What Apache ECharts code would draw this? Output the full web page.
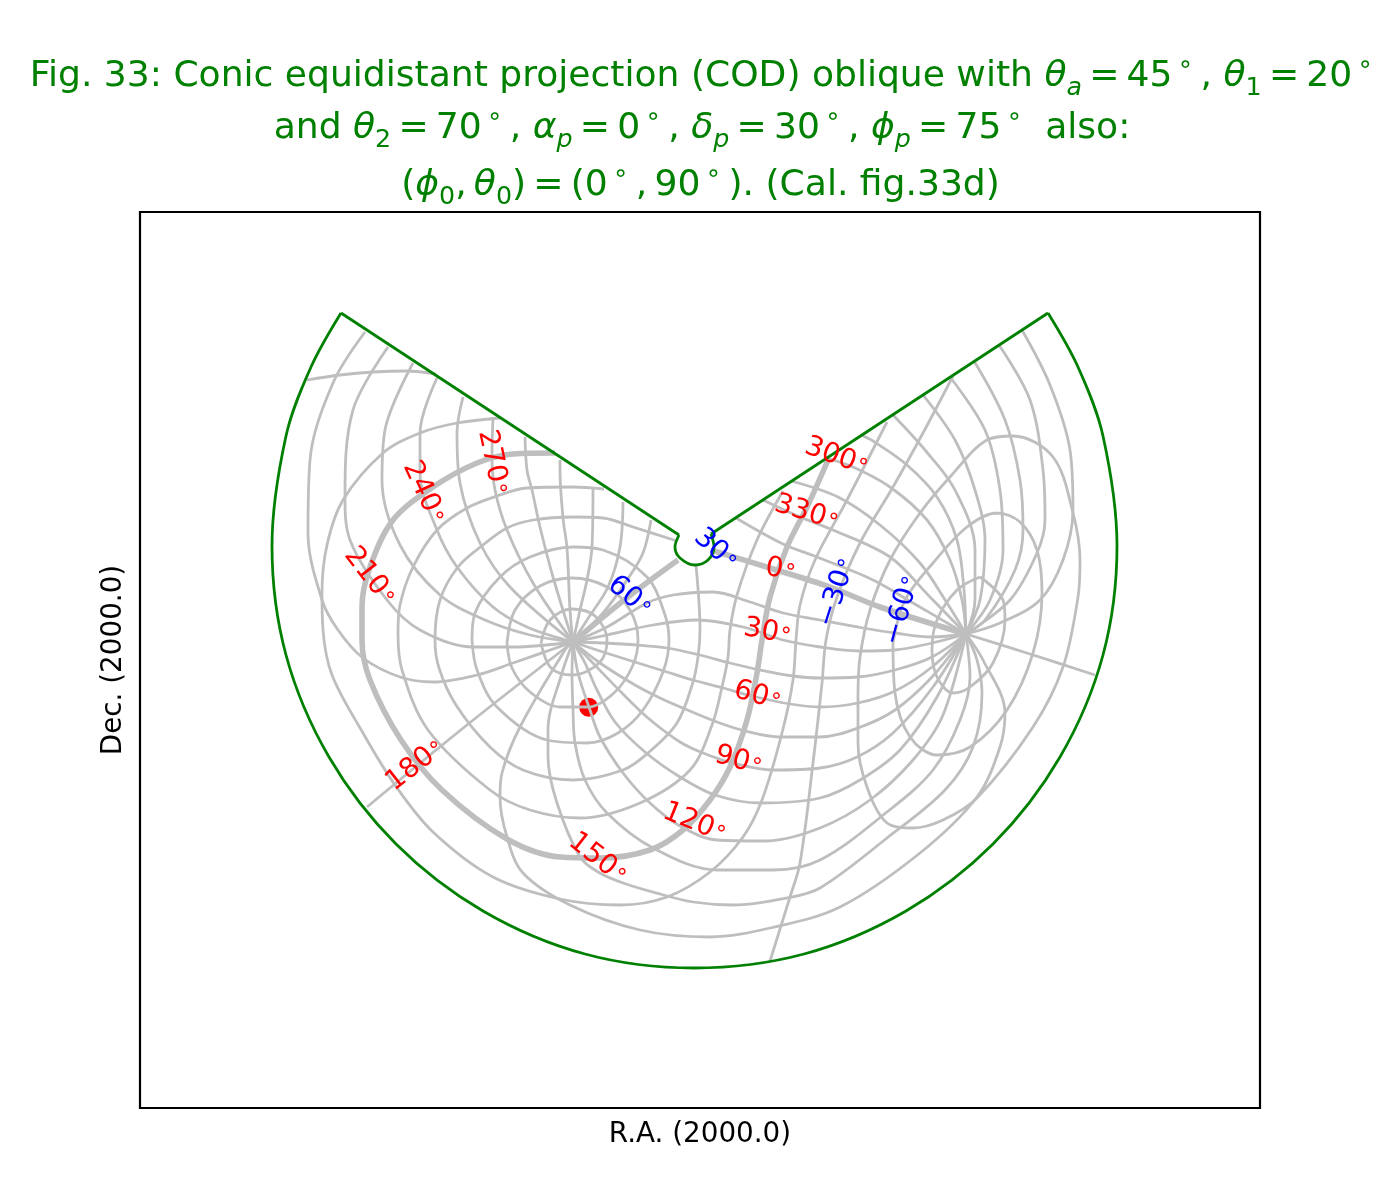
<!DOCTYPE html>
<html><head><meta charset="utf-8"><style>html,body{margin:0;padding:0;background:#fff}#c{width:1400px;height:1200px}</style>
<script src="https://cdn.jsdelivr.net/npm/echarts@6/dist/echarts.min.js"></script></head>
<body><div id="c"></div><script>
const N=[573,642], S=[966,634];
// Parallels (declination)
const dec75=[[541,643],[550,620],[572,609],[595,616],[607,640],[600,662],[573,675],[551,668],[541,643]];
const dec60=[[507,643],[515,610],[540,586],[572,578],[607,587],[630,610],[638,640],[633,665],[615,692],[588,707],[560,707],[530,692],[512,668],[507,643]];
const dec45=[[472,640],[475,613],[500,577],[530,557],[573,547],[603,550],[647,577],[665,615],[669,640],[663,672],[643,710],[618,733],[587,743],[547,740],[497,707],[477,670],[472,640]];
const dec30a=[[677,541],[633,527],[603,518],[573,517],[533,520],[507,528],[483,545],[458,567],[440,600],[435,640],[439,668],[456,705],[490,747],[523,770],[573,780],[623,770],[648,753],[677,723],[693,682],[698,657],[700,630],[696,565]];
const dec15=[[604,489],[573,487],[527,488],[497,496],[467,508],[437,530],[413,567],[400,605],[398,633],[402,670],[428,730],[490,790],[530,810],[580,818],[640,803],[690,770],[712,725],[722,687],[728,657],[730,630],[737,595],[757,540],[783,491]];
const dec0=[[555,453],[513,454],[477,463],[433,487],[393,520],[370,567],[362,607],[362,640],[370,680],[401,740],[442,790],[507,839],[560,857],[600,858],[650,850],[683,830],[710,800],[730,767],[747,720],[757,673],[762,640],[770,597],[787,547],[808,505],[828,460]];
const decm15=[[500,418],[457,423],[420,433],[383,453],[343,500],[327,545],[322,593],[323,630],[332,675],[363,733],[395,785],[433,832],[493,877],[560,899],[620,905],[667,897],[710,872],[743,837],[762,800],[782,733],[793,680],[796,640],[800,605],[815,560],[847,500],[887,422]];
const decm30a=[[307,380],[340,375],[373,372],[407,371],[436,374]];
const decm30b=[[953,376],[923,433],[893,487],[860,543],[837,597],[826,640],[822,683],[813,763],[800,863],[790,897],[770,961]];
const decm45=[[858,693],[858,743],[867,787],[887,823],[913,828],[943,820],[977,798],[1033,727],[1063,667],[1078,597],[1080,560],[1073,513],[1053,457],[1013,436],[987,440],[950,477],[920,513],[890,560],[870,610],[860,657],[858,693]];
const decm60=[[893,643],[895,693],[910,737],[937,755],[970,747],[1007,710],[1033,653],[1042,593],[1037,550],[1020,522],[997,513],[967,527],[933,563],[905,600],[893,643]];
const decm75=[[980,577],[1003,600],[1005,620],[993,663],[970,687],[953,693],[937,677],[932,650],[937,620],[957,590],[980,577]];
// Meridians (right ascension)
const ra0a=[N,[628,597],[678,560]];
const ra0b=[[714,551],[770,568],[830,587],[880,607],S];
const ra15=[N,[607,627],[647,603],[673,595],[713,592],[750,602],[783,613],[820,620],[863,628],[895,633],[932,637],S];
const ra30=[N,[607,635],[653,625],[697,620],[743,627],[783,640],[820,647],[858,651],[895,650],[932,643],S];
const ra45=[N,[603,643],[637,645],[667,648],[700,655],[730,663],[760,670],[793,676],[820,678],[858,677],[895,670],[932,657],S];
const ra60=[N,[603,652],[638,663],[667,672],[693,680],[723,688],[752,696],[790,704],[820,707],[858,703],[895,691],[932,667],S];
const ra75=[N,[600,663],[635,685],[660,698],[685,709],[717,722],[745,731],[780,737],[820,737],[858,728],[895,710],[932,677],S];
const ra90=[N,[590,660],[622,693],[648,718],[680,742],[703,753],[733,763],[773,770],[820,768],[857,757],[893,733],[933,687],S];
const ra105=[N,[585,663],[597,690],[615,722],[645,752],[680,777],[715,795],[760,803],[820,798],[860,780],[900,750],[937,697],S];
const ra120=[N,[578,673],[590,710],[600,737],[623,773],[650,803],[680,826],[717,840],[765,841],[820,828],[870,800],[913,760],[943,715],S];
const ra135=[N,[572,673],[573,710],[575,743],[585,780],[607,813],[653,848],[717,870],[773,870],[820,860],[887,812],[933,770],[960,720],[970,677],S];
const ra150=[N,[562,673],[548,730],[548,757],[557,803],[580,857],[598,872],[623,883],[660,894],[693,902],[733,905],[787,898],[820,888],[887,838],[945,790],[973,747],[982,693],[977,660],S];
const ra165=[N,[565,650],[520,727],[502,773],[500,797],[507,837],[523,873],[570,905],[640,930],[710,937],[770,928],[840,907],[920,853],[977,797],[1000,747],[1005,713],[983,660],S];
const ra180a=[N,[467,725],[367,807]];
const ra180b=[S,[1030,654],[1095,675]];
const ra195a=[N,[513,663],[477,675],[433,682],[400,677],[363,658],[338,630],[322,600],[308,533],[310,460],[333,383],[365,332]];
const ra195b=[[1022,330],[1050,385],[1070,450],[1073,510],[1063,560],[1040,600],[1000,623],S];
const ra210a=[N,[513,647],[473,647],[420,630],[387,600],[350,540],[345,497],[353,410],[388,347]];
const ra210b=[[999,345],[1030,400],[1043,470],[1045,520],[1037,553],[1010,600],S];
const ra225a=[N,[530,635],[485,620],[440,595],[400,545],[382,480],[385,430],[413,363]];
const ra225b=[[974,361],[1005,420],[1020,480],[1023,530],[1015,570],[985,620],S];
const ra240a=[N,[527,627],[493,607],[457,567],[437,530],[420,473],[420,433],[437,378]];
const ra240b=[[950,377],[985,430],[1000,490],[1003,550],[990,600],S];
const ra255a=[N,[510,587],[480,543],[460,483],[457,433],[463,397]];
const ra255b=[[923,395],[955,440],[975,490],[985,540],[980,600],S];
const ra270a=[N,[533,583],[507,530],[495,490],[492,457],[493,417]];
const ra270b=[[893,415],[925,450],[955,490],[975,550],[975,600],S];
const ra285a=[N,[553,577],[540,527],[532,490],[527,470],[525,437]];
const ra285b=[[861,435],[873,441],[907,465],[937,497],[957,540],[964,590],S];
const ra300a=[N,[570,610],[567,548],[563,518],[560,470],[560,460]];
const ra300b=[[826,458],[853,467],[890,487],[927,520],[950,560],[962,600],S];
const ra315a=[N,[580,610],[587,580],[592,547],[593,487]];
const ra315b=[[791,481],[838,497],[880,525],[920,563],[947,603],S];
const ra330a=[N,[587,620],[608,587],[620,547],[623,502]];
const ra330b=[[763,500],[800,517],[833,530],[890,557],[930,597],S];
const ra345a=[N,[603,613],[627,580],[643,553],[651,520]];
const ra345b=[[736,518],[783,544],[817,557],[873,580],[913,603],S];
// Boundary of the projection
const outerArc=[[341,313],[311,367],[286,436],[272,546],[286,655],[329,757],[396,844],[483,911],[585,954],[694,968],[804,954],[906,911],[993,844],[1060,757],[1103,655],[1117,546],[1103,436],[1078,367],[1048,313]];
const cutLeft=[[341,313],[679,535]];
const cutRight=[[711,534],[1048,313]];
const innerArc=[[679,535],[675,547],[680,558],[695,565],[708,560],[714,547],[711,534]];
// Labels
const redText=['0','30','60','90','120','150','180','210','240','270','300','330'];
const redX=[781,768,758,739,695,598,416,370,424,493,837,807];
const redY=[570,632,696,761,823,859,765,577,493,463,457,513];
const redRot=[-10,-10,-15,-15,-22,-38,38,-52,-65,-78,-20,-17];
const blueText=['60','30','\u221230','\u221260'];
const blueX=[630,716,837,902];
const blueY=[597,550,592,610];
const blueRot=[-40,-42,72,75];
const dot=[[588.7,707.3]];

const thin=[dec75,dec60,dec45,dec30a,dec15,decm15,decm30a,decm30b,decm45,decm60,decm75,
 ra15,ra30,ra45,ra60,ra75,ra90,ra105,ra120,ra135,ra150,ra165,ra180a,ra180b,ra195a,ra195b,ra210a,ra210b,ra225a,ra225b,ra240a,ra240b,ra255a,ra255b,ra270a,ra270b,ra285a,ra285b,ra300a,ra300b,ra315a,ra315b,ra330a,ra330b,ra345a,ra345b];
const thick=[dec0,ra0a,ra0b];
const FONT='DejaVu Sans';
const SM=0.34;
const line=(d,w,c,z,sm)=>({type:'line',data:d,symbol:'none',smooth:sm,silent:true,clip:false,z:z,animation:false,lineStyle:{width:w,color:c,cap:'butt'}});
const series=[];
series.push({type:'scatter',data:dot,symbol:'circle',symbolSize:19,itemStyle:{color:'#ff0000',opacity:1},z:1,silent:true});
thin.forEach(d=>series.push(line(d,2.78,'#bebebe',2,SM)));
thick.forEach(d=>series.push(line(d,5.56,'#bebebe',2,SM)));
series.push(line(outerArc,2.78,'#008000',3,SM));
series.push(line(innerArc,2.78,'#008000',3,SM));
series.push(line(cutLeft,2.78,'#008000',3,false));
series.push(line(cutRight,2.78,'#008000',3,false));
const labelRich=c=>({a:{fontFamily:FONT,fontSize:27.8,color:c,lineHeight:30,opacity:1},b:{fontFamily:FONT,fontSize:22,color:c,lineHeight:14,verticalAlign:'top',opacity:1}});
const labels=(txt,xs,ys,rs,c)=>({type:'scatter',symbolSize:0,z:5,silent:true,itemStyle:{opacity:1},
 data:txt.map((t,i)=>({value:[xs[i],ys[i]],itemStyle:{opacity:1},label:{show:true,opacity:1,position:'inside',rotate:rs[i],formatter:'{a|'+t+'}{b|\u2218}',rich:labelRich(c)}}))});
series.push(labels(redText,redX,redY,redRot,'#ff0000'));
series.push(labels(blueText,blueX,blueY,blueRot,'#0000ff'));

const G='#008000';
const FS=36.1, FSS=25.3;
const titleRich={
 n:{fontFamily:FONT,fontSize:FS,color:G,lineHeight:48},
 i:{fontFamily:FONT,fontStyle:'italic',fontSize:FS,color:G,lineHeight:48},
 s:{fontFamily:FONT,fontSize:FSS,color:G,lineHeight:26,verticalAlign:'bottom'},
 si:{fontFamily:FONT,fontStyle:'italic',fontSize:FSS,color:G,lineHeight:26,verticalAlign:'bottom'},
 c:{fontFamily:FONT,fontSize:FSS,color:G,lineHeight:24,verticalAlign:'top'}
};
const titleLines=[
 '{n|Fig. 33: Conic equidistant projection (COD) oblique with }{i|\u03b8}{si|a}{n|\u2009=\u200945}{c|\u2009\u2218}{n|\u2009, }{i|\u03b8}{s|1}{n|\u2009=\u200920}{c|\u2009\u2218}',
 '{n|and }{i|\u03b8}{s|2}{n|\u2009=\u200970}{c|\u2009\u2218}{n|\u2009, }{i|\u03b1}{si|p}{n|\u2009=\u20090}{c|\u2009\u2218}{n|\u2009, }{i|\u03b4}{si|p}{n|\u2009=\u200930}{c|\u2009\u2218}{n|\u2009, }{i|\u03d5}{si|p}{n|\u2009=\u200975}{c|\u2009\u2218}{n|  also:}',
 '{n|(}{i|\u03d5}{s|0}{n|,\u2009}{i|\u03b8}{s|0}{n|)\u2009=\u2009(0}{c|\u2009\u2218}{n|\u2009,\u200990}{c|\u2009\u2218}{n|\u2009). (Cal. fig.33d)}'
];
const titleTops=[53,105,162];
const titleCx=[701.5,702,700.5];
const chart=echarts.init(document.getElementById('c'),null,{renderer:'canvas',width:1400,height:1200});
chart.setOption({
 animation:false,backgroundColor:'#fff',
 title:titleLines.map((t,i)=>({text:t,left:titleCx[i],textAlign:'center',top:titleTops[i],padding:0,textStyle:{rich:titleRich,fontFamily:FONT,fontWeight:'normal',color:G}})),
 grid:{left:140,right:140,top:212,bottom:92,show:true,borderColor:'#000',borderWidth:2.2,backgroundColor:'transparent'},
 xAxis:{type:'value',min:140,max:1260,name:'R.A. (2000.0)',nameLocation:'middle',nameGap:13,nameTextStyle:{fontFamily:FONT,fontSize:27.8,color:'#000',verticalAlign:'top'},axisLine:{show:false},axisTick:{show:false},axisLabel:{show:false},splitLine:{show:false}},
 yAxis:{type:'value',min:212,max:1108,inverse:true,name:'Dec. (2000.0)',nameLocation:'middle',nameGap:12,nameTextStyle:{fontFamily:FONT,fontSize:27.8,color:'#000',verticalAlign:'bottom'},axisLine:{show:false},axisTick:{show:false},axisLabel:{show:false},splitLine:{show:false}},
 series:series
});
</script></body></html>
